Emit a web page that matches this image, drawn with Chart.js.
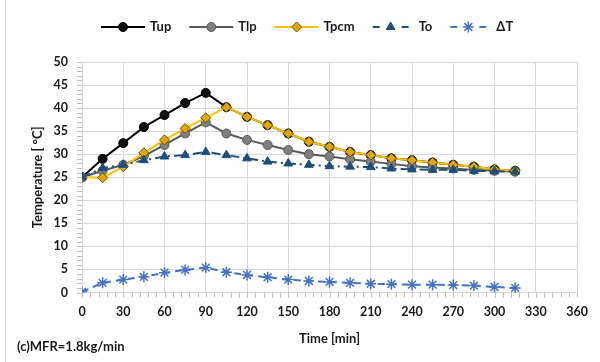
<!DOCTYPE html>
<html>
<head>
<meta charset="utf-8">
<script src="https://cdn.jsdelivr.net/npm/chart.js@4"></script>
<style>
  html, body { margin: 0; padding: 0; background: #fff; }
</style>
</head>
<body>
<canvas id="chart" width="600" height="362"></canvas>
<script>
// time in minutes
const times = [0, 15, 30, 45, 60, 75, 90, 105, 120, 135, 150, 165, 180, 195, 210, 225, 240, 255, 270, 285, 300, 315];
const tup = [25.0, 29.0, 32.4, 35.9, 38.5, 41.1, 43.3, 40.2, 38.1, 36.3, 34.5, 32.7, 31.6, 30.5, 29.8, 29.1, 28.7, 28.2, 27.7, 27.3, 26.7, 26.4];
const tlp = [25.0, 26.4, 27.7, 29.6, 32.0, 34.5, 36.9, 34.5, 33.1, 32.0, 30.9, 30.0, 29.5, 28.9, 28.4, 27.9, 27.4, 27.1, 26.9, 26.6, 26.4, 26.2];
const tpcm = [25.0, 24.9, 27.3, 30.3, 33.1, 35.6, 37.9, 40.2, 38.1, 36.3, 34.5, 32.7, 31.6, 30.5, 29.8, 29.1, 28.7, 28.2, 27.7, 27.3, 26.7, 26.4];
const to = [25.0, 27.0, 27.7, 28.7, 29.5, 29.8, 30.5, 29.8, 29.1, 28.4, 28.0, 27.7, 27.4, 27.3, 27.2, 26.9, 26.7, 26.6, 26.6, 26.4, 26.3, 26.2];
const dT = [0.1, 2.1, 2.8, 3.4, 4.3, 4.9, 5.4, 4.4, 3.8, 3.3, 2.8, 2.5, 2.3, 2.1, 1.9, 1.8, 1.7, 1.7, 1.6, 1.5, 1.2, 1.0];

const FONT = "Lato, 'Open Sans', sans-serif";
const TEXT = "#1a1a1a";
const GRID = "#d9d9d9";

function pts(vals) {
  return vals.map((v, i) => ({ x: times[i], y: v }));
}

// draws minor ticks, the legend (line + marker), the left frame and the footnote
const extras = {
  id: "extras",
  afterDraw(chart) {
    const ctx = chart.ctx;
    const xs = chart.scales.x;
    const ys = chart.scales.y;
    const area = chart.chartArea;
    ctx.save();
    // frame line on the left
    ctx.strokeStyle = GRID;
    ctx.lineWidth = 1;
    ctx.beginPath();
    ctx.moveTo(5.5, 0);
    ctx.lineTo(5.5, 362);
    ctx.stroke();
    // minor ticks
    ctx.strokeStyle = "#bfbfbf";
    ctx.beginPath();
    for (let v = 0; v <= 50; v += 1) {
      const y = Math.round(ys.getPixelForValue(v)) + 0.5;
      ctx.moveTo(area.left - 5, y);
      ctx.lineTo(area.left, y);
    }
    for (let t = 0; t <= 360; t += 6) {
      const x = Math.round(xs.getPixelForValue(t)) + 0.5;
      ctx.moveTo(x, area.bottom);
      ctx.lineTo(x, area.bottom + 5);
    }
    ctx.stroke();

    // legend
    ctx.font = "bold 13px " + FONT;
    ctx.textBaseline = "middle";
    const ly = 27;
    let lx = 101;
    chart.data.datasets.forEach((ds) => {
      const dashed = ds.legendDash && ds.legendDash.length;
      const len = dashed ? 36 : 44;
      ctx.strokeStyle = ds.borderColor;
      ctx.lineWidth = ds.borderWidth;
      ctx.setLineDash(ds.legendDash || []);
      ctx.beginPath();
      ctx.moveTo(lx, ly);
      ctx.lineTo(lx + len, ly);
      ctx.stroke();
      ctx.setLineDash([]);
      ctx.fillStyle = ds.pointBackgroundColor;
      ctx.strokeStyle = ds.pointBorderColor;
      ctx.lineWidth = ds.pointBorderWidth;
      Chart.helpers.drawPoint(ctx, {
        pointStyle: ds.pointStyle,
        radius: ds.pointRadius,
        rotation: 0,
        borderWidth: ds.pointBorderWidth
      }, lx + len / 2, ly);
      ctx.fillStyle = TEXT;
      const tx = lx + len + (dashed ? 10 : 5);
      ctx.fillText(ds.label, tx, ly);
      lx = tx + ctx.measureText(ds.label).width + 18;
    });

    // footnote
    ctx.font = "bold 13px " + FONT;
    ctx.fillStyle = TEXT;
    ctx.textAlign = "left";
    ctx.fillText("(c)MFR=1.8kg/min", 17, 347);
    ctx.restore();
  }
};

new Chart(document.getElementById("chart"), {
  type: "line",
  data: {
    datasets: [
      {
        label: "Tup",
        data: pts(tup),
        order: 5,
        borderColor: "#000000",
        borderWidth: 2,
        pointStyle: "circle",
        pointRadius: 4.5,
        pointBackgroundColor: "#111111",
        pointBorderColor: "#000000",
        pointBorderWidth: 1
      },
      {
        label: "Tlp",
        data: pts(tlp),
        order: 4,
        borderColor: "#595959",
        borderWidth: 2,
        pointStyle: "circle",
        pointRadius: 4.5,
        pointBackgroundColor: "#7f7f7f",
        pointBorderColor: "#595959",
        pointBorderWidth: 1
      },
      {
        label: "Tpcm",
        data: pts(tpcm),
        order: 3,
        borderColor: "#ffc000",
        borderWidth: 2,
        pointStyle: "rectRot",
        pointRadius: 5,
        pointBackgroundColor: "#e0a800",
        pointBorderColor: "#6b5000",
        pointBorderWidth: 1
      },
      {
        label: "To",
        data: pts(to),
        order: 2,
        borderColor: "#1f4e79",
        borderWidth: 2,
        borderDash: [9, 4, 2, 4],
        legendDash: [7, 22],
        pointStyle: "triangle",
        pointRadius: 5,
        pointBackgroundColor: "#1f4e79",
        pointBorderColor: "#1f4e79",
        pointBorderWidth: 1
      },
      {
        label: "\u0394T",
        data: pts(dT),
        order: 1,
        borderColor: "#4472c4",
        borderWidth: 2,
        borderDash: [7, 5],
        legendDash: [7, 22],
        pointStyle: "star",
        pointRadius: 5.5,
        pointBackgroundColor: "#4472c4",
        pointBorderColor: "#4472c4",
        pointBorderWidth: 1.5
      }
    ]
  },
  options: {
    responsive: false,
    animation: false,
    layout: { padding: { left: 26, right: 23, top: 62, bottom: 15 } },
    plugins: {
      legend: { display: false },
      tooltip: { enabled: false }
    },
    scales: {
      x: {
        type: "linear",
        min: 0,
        max: 360,
        ticks: {
          stepSize: 30,
          padding: 12,
          color: TEXT,
          font: { family: FONT, size: 12.5, weight: "bold" }
        },
        grid: { color: GRID, lineWidth: 1, drawTicks: false },
        border: { color: GRID },
        title: {
          display: true,
          text: "Time [min]",
          color: TEXT,
          padding: { top: 8, bottom: 0 },
          font: { family: FONT, size: 13, weight: "bold" }
        },
        afterFit(scale) { scale.height = 54.5; }
      },
      y: {
        min: 0,
        max: 50,
        ticks: {
          stepSize: 5,
          padding: 14,
          color: TEXT,
          font: { family: FONT, size: 12.5, weight: "bold" }
        },
        grid: { color: GRID, lineWidth: 1, drawTicks: false },
        border: { color: GRID },
        title: {
          display: true,
          text: "Temperature [ \u00b0C]",
          color: TEXT,
          padding: { top: 4, bottom: 4 },
          font: { family: FONT, size: 13, weight: "bold" }
        },
        afterFit(scale) { scale.width = 56; }
      }
    }
  },
  plugins: [extras]
});
</script>
</body>
</html>
